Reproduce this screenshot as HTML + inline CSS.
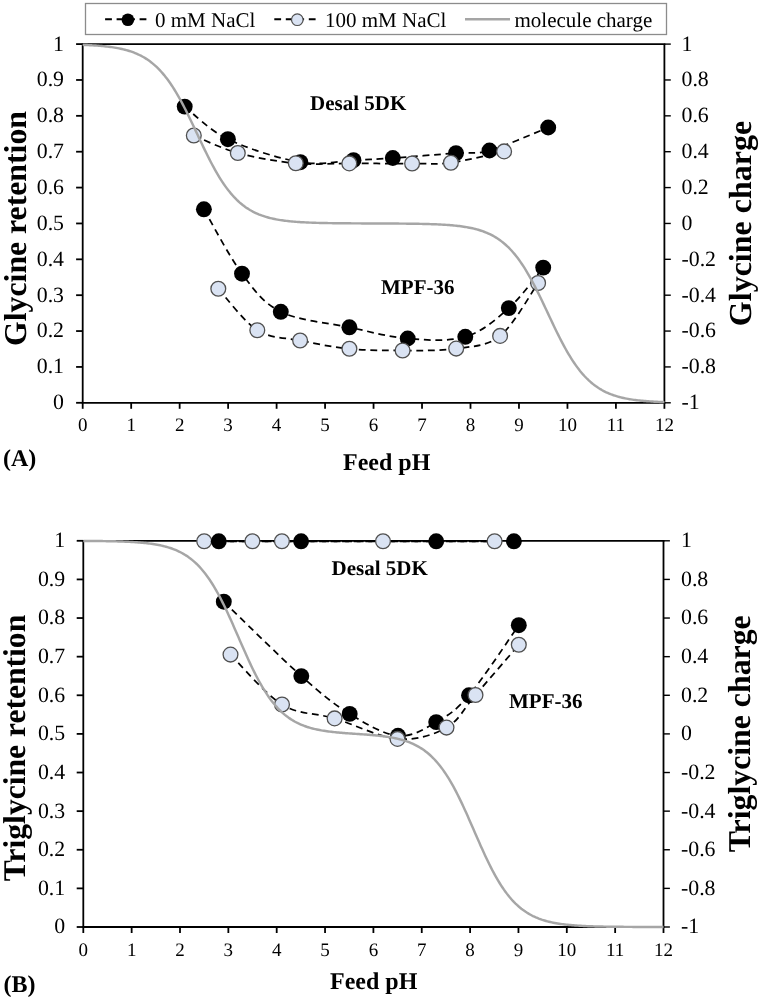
<!DOCTYPE html>
<html><head><meta charset="utf-8"><style>
html,body{margin:0;padding:0;background:#fff;width:761px;height:1000px;overflow:hidden;}
svg{display:block;will-change:transform;}
text{fill:#000;font-family:"Liberation Serif",serif;text-rendering:geometricPrecision;}
</style></head><body>
<svg width="761" height="1000" viewBox="0 0 761 1000">
<rect width="761" height="1000" fill="#fff"/>
<rect x="85.5" y="3.5" width="581" height="31" fill="#fff" stroke="#8C8C8C" stroke-width="1.3"/>
<line x1="105.1" y1="19.3" x2="150.6" y2="19.3" stroke="#000" stroke-width="1.9" stroke-dasharray="6.8 4.7"/>
<circle cx="127.9" cy="19.7" r="6.3" fill="#000"/>
<text x="155" y="27" font-size="21" >0 mM NaCl</text>
<line x1="274.3" y1="19.3" x2="320" y2="19.3" stroke="#000" stroke-width="1.9" stroke-dasharray="6.8 4.7"/>
<circle cx="297.3" cy="19.7" r="5.8" fill="#DAE3F3" stroke="#505050" stroke-width="1.2"/>
<text x="325" y="27" font-size="21" >100 mM NaCl</text>
<line x1="465" y1="19.3" x2="510" y2="19.3" stroke="#A5A5A5" stroke-width="2.6"/>
<text x="514.5" y="27" font-size="21" >molecule charge</text>
<line x1="76.1" y1="402.8" x2="82.7" y2="402.8" stroke="#000" stroke-width="1.8"/>
<text x="64" y="402.2" text-anchor="end" font-size="21.8"  dominant-baseline="central">0</text>
<line x1="76.1" y1="366.93" x2="82.7" y2="366.93" stroke="#000" stroke-width="1.8"/>
<text x="64" y="366.33" text-anchor="end" font-size="21.8"  dominant-baseline="central">0.1</text>
<line x1="76.1" y1="331.06" x2="82.7" y2="331.06" stroke="#000" stroke-width="1.8"/>
<text x="64" y="330.46" text-anchor="end" font-size="21.8"  dominant-baseline="central">0.2</text>
<line x1="76.1" y1="295.19" x2="82.7" y2="295.19" stroke="#000" stroke-width="1.8"/>
<text x="64" y="294.59" text-anchor="end" font-size="21.8"  dominant-baseline="central">0.3</text>
<line x1="76.1" y1="259.32" x2="82.7" y2="259.32" stroke="#000" stroke-width="1.8"/>
<text x="64" y="258.72" text-anchor="end" font-size="21.8"  dominant-baseline="central">0.4</text>
<line x1="76.1" y1="223.45" x2="82.7" y2="223.45" stroke="#000" stroke-width="1.8"/>
<text x="64" y="222.85" text-anchor="end" font-size="21.8"  dominant-baseline="central">0.5</text>
<line x1="76.1" y1="187.58" x2="82.7" y2="187.58" stroke="#000" stroke-width="1.8"/>
<text x="64" y="186.98" text-anchor="end" font-size="21.8"  dominant-baseline="central">0.6</text>
<line x1="76.1" y1="151.71" x2="82.7" y2="151.71" stroke="#000" stroke-width="1.8"/>
<text x="64" y="151.11" text-anchor="end" font-size="21.8"  dominant-baseline="central">0.7</text>
<line x1="76.1" y1="115.84" x2="82.7" y2="115.84" stroke="#000" stroke-width="1.8"/>
<text x="64" y="115.24" text-anchor="end" font-size="21.8"  dominant-baseline="central">0.8</text>
<line x1="76.1" y1="79.97" x2="82.7" y2="79.97" stroke="#000" stroke-width="1.8"/>
<text x="64" y="79.37" text-anchor="end" font-size="21.8"  dominant-baseline="central">0.9</text>
<line x1="76.1" y1="44.1" x2="82.7" y2="44.1" stroke="#000" stroke-width="1.8"/>
<text x="64" y="43.5" text-anchor="end" font-size="21.8"  dominant-baseline="central">1</text>
<line x1="664.4" y1="402.8" x2="670.8" y2="402.8" stroke="#000" stroke-width="1.4"/>
<text x="681.5" y="402.2" font-size="21.8"  dominant-baseline="central">-1</text>
<line x1="664.4" y1="366.93" x2="670.8" y2="366.93" stroke="#000" stroke-width="1.4"/>
<text x="681.5" y="366.33" font-size="21.8"  dominant-baseline="central">-0.8</text>
<line x1="664.4" y1="331.06" x2="670.8" y2="331.06" stroke="#000" stroke-width="1.4"/>
<text x="681.5" y="330.46" font-size="21.8"  dominant-baseline="central">-0.6</text>
<line x1="664.4" y1="295.19" x2="670.8" y2="295.19" stroke="#000" stroke-width="1.4"/>
<text x="681.5" y="294.59" font-size="21.8"  dominant-baseline="central">-0.4</text>
<line x1="664.4" y1="259.32" x2="670.8" y2="259.32" stroke="#000" stroke-width="1.4"/>
<text x="681.5" y="258.72" font-size="21.8"  dominant-baseline="central">-0.2</text>
<line x1="664.4" y1="223.45" x2="670.8" y2="223.45" stroke="#000" stroke-width="1.4"/>
<text x="681.5" y="222.85" font-size="21.8"  dominant-baseline="central">0</text>
<line x1="664.4" y1="187.58" x2="670.8" y2="187.58" stroke="#000" stroke-width="1.4"/>
<text x="681.5" y="186.98" font-size="21.8"  dominant-baseline="central">0.2</text>
<line x1="664.4" y1="151.71" x2="670.8" y2="151.71" stroke="#000" stroke-width="1.4"/>
<text x="681.5" y="151.11" font-size="21.8"  dominant-baseline="central">0.4</text>
<line x1="664.4" y1="115.84" x2="670.8" y2="115.84" stroke="#000" stroke-width="1.4"/>
<text x="681.5" y="115.24" font-size="21.8"  dominant-baseline="central">0.6</text>
<line x1="664.4" y1="79.97" x2="670.8" y2="79.97" stroke="#000" stroke-width="1.4"/>
<text x="681.5" y="79.37" font-size="21.8"  dominant-baseline="central">0.8</text>
<line x1="664.4" y1="44.1" x2="670.8" y2="44.1" stroke="#000" stroke-width="1.4"/>
<text x="681.5" y="43.5" font-size="21.8"  dominant-baseline="central">1</text>
<line x1="82.7" y1="402.8" x2="82.7" y2="408.8" stroke="#000" stroke-width="1.8"/>
<text x="82.7" y="431.3" text-anchor="middle" font-size="19" >0</text>
<line x1="131.18" y1="402.8" x2="131.18" y2="408.8" stroke="#000" stroke-width="1.8"/>
<text x="131.18" y="431.3" text-anchor="middle" font-size="19" >1</text>
<line x1="179.65" y1="402.8" x2="179.65" y2="408.8" stroke="#000" stroke-width="1.8"/>
<text x="179.65" y="431.3" text-anchor="middle" font-size="19" >2</text>
<line x1="228.12" y1="402.8" x2="228.12" y2="408.8" stroke="#000" stroke-width="1.8"/>
<text x="228.12" y="431.3" text-anchor="middle" font-size="19" >3</text>
<line x1="276.6" y1="402.8" x2="276.6" y2="408.8" stroke="#000" stroke-width="1.8"/>
<text x="276.6" y="431.3" text-anchor="middle" font-size="19" >4</text>
<line x1="325.07" y1="402.8" x2="325.07" y2="408.8" stroke="#000" stroke-width="1.8"/>
<text x="325.07" y="431.3" text-anchor="middle" font-size="19" >5</text>
<line x1="373.55" y1="402.8" x2="373.55" y2="408.8" stroke="#000" stroke-width="1.8"/>
<text x="373.55" y="431.3" text-anchor="middle" font-size="19" >6</text>
<line x1="422.02" y1="402.8" x2="422.02" y2="408.8" stroke="#000" stroke-width="1.8"/>
<text x="422.02" y="431.3" text-anchor="middle" font-size="19" >7</text>
<line x1="470.5" y1="402.8" x2="470.5" y2="408.8" stroke="#000" stroke-width="1.8"/>
<text x="470.5" y="431.3" text-anchor="middle" font-size="19" >8</text>
<line x1="518.97" y1="402.8" x2="518.97" y2="408.8" stroke="#000" stroke-width="1.8"/>
<text x="518.97" y="431.3" text-anchor="middle" font-size="19" >9</text>
<line x1="567.45" y1="402.8" x2="567.45" y2="408.8" stroke="#000" stroke-width="1.8"/>
<text x="567.45" y="431.3" text-anchor="middle" font-size="19" >10</text>
<line x1="615.92" y1="402.8" x2="615.92" y2="408.8" stroke="#000" stroke-width="1.8"/>
<text x="615.92" y="431.3" text-anchor="middle" font-size="19" >11</text>
<line x1="664.4" y1="402.8" x2="664.4" y2="408.8" stroke="#000" stroke-width="1.8"/>
<text x="664.4" y="431.3" text-anchor="middle" font-size="19" >12</text>
<line x1="82.7" y1="44.1" x2="82.7" y2="402.8" stroke="#000" stroke-width="1.8"/>
<line x1="664.4" y1="44.1" x2="664.4" y2="402.8" stroke="#000" stroke-width="1.8"/>
<line x1="81.8" y1="402.8" x2="665.3" y2="402.8" stroke="#000" stroke-width="1.8"/>
<line x1="81.8" y1="44.1" x2="665.3" y2="44.1" stroke="#000" stroke-width="1.8"/>
<path d="M184.7,106.6 C191.9,112.03 208.62,129.93 227.9,139.2 C247.18,148.47 279.47,158.7 300.4,162.2 C321.33,165.7 338.1,160.9 353.5,160.2 C368.9,159.5 375.72,159.18 392.8,158 C409.88,156.82 439.88,154.35 456,153.1 C472.12,151.85 474.13,154.77 489.5,150.5 C504.87,146.23 538.42,131.33 548.2,127.5" fill="none" stroke="#000" stroke-width="1.75" stroke-dasharray="6.8 4.7"/>
<path d="M193.8,135.5 C201.13,138.42 220.8,148.37 237.8,153 C254.8,157.63 277.22,161.57 295.8,163.3 C314.38,165.03 329.92,163.37 349.3,163.4 C368.68,163.43 395.17,163.62 412.1,163.5 C429.03,163.38 435.57,164.72 450.9,162.7 C466.23,160.68 495.23,153.28 504.1,151.4" fill="none" stroke="#000" stroke-width="1.75" stroke-dasharray="6.8 4.7"/>
<path d="M203.9,209.3 C210.25,220.03 229.18,256.62 242,273.7 C254.82,290.78 262.9,302.87 280.8,311.8 C298.7,320.73 328.25,322.85 349.4,327.3 C370.55,331.75 388.38,336.92 407.7,338.5 C427.02,340.08 448.45,341.87 465.3,336.8 C482.15,331.73 495.82,319.63 508.8,308.1 C521.78,296.57 537.47,274.35 543.2,267.6" fill="none" stroke="#000" stroke-width="1.75" stroke-dasharray="6.8 4.7"/>
<path d="M218.3,288.8 C224.8,295.7 243.67,321.58 257.3,330.2 C270.93,338.82 284.75,337.4 300.1,340.5 C315.45,343.6 332.32,347.13 349.4,348.8 C366.48,350.47 384.8,350.53 402.6,350.5 C420.4,350.47 439.95,351.03 456.2,348.6 C472.45,346.17 486.45,346.83 500.1,335.9 C513.75,324.97 531.77,291.82 538.1,283" fill="none" stroke="#000" stroke-width="1.75" stroke-dasharray="6.8 4.7"/>
<circle cx="184.7" cy="106.6" r="7.95" fill="#000"/>
<circle cx="227.9" cy="139.2" r="7.95" fill="#000"/>
<circle cx="300.4" cy="162.2" r="7.95" fill="#000"/>
<circle cx="353.5" cy="160.2" r="7.95" fill="#000"/>
<circle cx="392.8" cy="158" r="7.95" fill="#000"/>
<circle cx="456" cy="153.1" r="7.95" fill="#000"/>
<circle cx="489.5" cy="150.5" r="7.95" fill="#000"/>
<circle cx="548.2" cy="127.5" r="7.95" fill="#000"/>
<circle cx="193.8" cy="135.5" r="7.4" fill="#DAE3F3" stroke="#505050" stroke-width="1.3"/>
<circle cx="237.8" cy="153" r="7.4" fill="#DAE3F3" stroke="#505050" stroke-width="1.3"/>
<circle cx="295.8" cy="163.3" r="7.4" fill="#DAE3F3" stroke="#505050" stroke-width="1.3"/>
<circle cx="349.3" cy="163.4" r="7.4" fill="#DAE3F3" stroke="#505050" stroke-width="1.3"/>
<circle cx="412.1" cy="163.5" r="7.4" fill="#DAE3F3" stroke="#505050" stroke-width="1.3"/>
<circle cx="450.9" cy="162.7" r="7.4" fill="#DAE3F3" stroke="#505050" stroke-width="1.3"/>
<circle cx="504.1" cy="151.4" r="7.4" fill="#DAE3F3" stroke="#505050" stroke-width="1.3"/>
<circle cx="203.9" cy="209.3" r="7.95" fill="#000"/>
<circle cx="242" cy="273.7" r="7.95" fill="#000"/>
<circle cx="280.8" cy="311.8" r="7.95" fill="#000"/>
<circle cx="349.4" cy="327.3" r="7.95" fill="#000"/>
<circle cx="407.7" cy="338.5" r="7.95" fill="#000"/>
<circle cx="465.3" cy="336.8" r="7.95" fill="#000"/>
<circle cx="508.8" cy="308.1" r="7.95" fill="#000"/>
<circle cx="543.2" cy="267.6" r="7.95" fill="#000"/>
<circle cx="218.3" cy="288.8" r="7.4" fill="#DAE3F3" stroke="#505050" stroke-width="1.3"/>
<circle cx="257.3" cy="330.2" r="7.4" fill="#DAE3F3" stroke="#505050" stroke-width="1.3"/>
<circle cx="300.1" cy="340.5" r="7.4" fill="#DAE3F3" stroke="#505050" stroke-width="1.3"/>
<circle cx="349.4" cy="348.8" r="7.4" fill="#DAE3F3" stroke="#505050" stroke-width="1.3"/>
<circle cx="402.6" cy="350.5" r="7.4" fill="#DAE3F3" stroke="#505050" stroke-width="1.3"/>
<circle cx="456.2" cy="348.6" r="7.4" fill="#DAE3F3" stroke="#505050" stroke-width="1.3"/>
<circle cx="500.1" cy="335.9" r="7.4" fill="#DAE3F3" stroke="#505050" stroke-width="1.3"/>
<circle cx="538.1" cy="283" r="7.4" fill="#DAE3F3" stroke="#505050" stroke-width="1.3"/>
<path d="M82.70,44.88 L84.15,44.93 L85.61,44.99 L87.06,45.06 L88.52,45.13 L89.97,45.20 L91.43,45.28 L92.88,45.36 L94.33,45.45 L95.79,45.55 L97.24,45.65 L98.70,45.76 L100.15,45.88 L101.61,46.00 L103.06,46.14 L104.51,46.28 L105.97,46.43 L107.42,46.60 L108.88,46.77 L110.33,46.96 L111.78,47.16 L113.24,47.38 L114.69,47.61 L116.15,47.85 L117.60,48.12 L119.06,48.40 L120.51,48.70 L121.96,49.02 L123.42,49.36 L124.87,49.72 L126.33,50.11 L127.78,50.52 L129.24,50.97 L130.69,51.44 L132.14,51.94 L133.60,52.47 L135.05,53.04 L136.51,53.65 L137.96,54.29 L139.42,54.98 L140.87,55.71 L142.32,56.48 L143.78,57.30 L145.23,58.17 L146.69,59.09 L148.14,60.07 L149.60,61.10 L151.05,62.19 L152.50,63.35 L153.96,64.57 L155.41,65.85 L156.87,67.21 L158.32,68.64 L159.78,70.14 L161.23,71.71 L162.68,73.36 L164.14,75.10 L165.59,76.91 L167.05,78.80 L168.50,80.77 L169.95,82.83 L171.41,84.97 L172.86,87.19 L174.32,89.49 L175.77,91.87 L177.23,94.33 L178.68,96.87 L180.13,99.48 L181.59,102.16 L183.04,104.90 L184.50,107.71 L185.95,110.57 L187.41,113.48 L188.86,116.44 L190.31,119.44 L191.77,122.48 L193.22,125.54 L194.68,128.62 L196.13,131.71 L197.59,134.81 L199.04,137.90 L200.49,140.99 L201.95,144.05 L203.40,147.10 L204.86,150.11 L206.31,153.08 L207.77,156.01 L209.22,158.90 L210.67,161.72 L212.13,164.49 L213.58,167.19 L215.04,169.82 L216.49,172.38 L217.95,174.87 L219.40,177.27 L220.85,179.60 L222.31,181.85 L223.76,184.02 L225.22,186.10 L226.67,188.10 L228.12,190.02 L229.58,191.86 L231.03,193.62 L232.49,195.30 L233.94,196.90 L235.40,198.42 L236.85,199.87 L238.30,201.25 L239.76,202.56 L241.21,203.80 L242.67,204.98 L244.12,206.09 L245.58,207.15 L247.03,208.14 L248.48,209.08 L249.94,209.97 L251.39,210.80 L252.85,211.59 L254.30,212.33 L255.76,213.03 L257.21,213.69 L258.66,214.31 L260.12,214.89 L261.57,215.44 L263.03,215.95 L264.48,216.43 L265.94,216.88 L267.39,217.30 L268.84,217.70 L270.30,218.07 L271.75,218.42 L273.21,218.75 L274.66,219.06 L276.12,219.34 L277.57,219.61 L279.02,219.86 L280.48,220.10 L281.93,220.32 L283.39,220.52 L284.84,220.72 L286.30,220.90 L287.75,221.06 L289.20,221.22 L290.66,221.37 L292.11,221.51 L293.57,221.63 L295.02,221.75 L296.47,221.87 L297.93,221.97 L299.38,222.07 L300.84,222.16 L302.29,222.25 L303.75,222.33 L305.20,222.40 L306.65,222.47 L308.11,222.54 L309.56,222.60 L311.02,222.65 L312.47,222.71 L313.93,222.76 L315.38,222.80 L316.83,222.85 L318.29,222.89 L319.74,222.93 L321.20,222.96 L322.65,222.99 L324.11,223.03 L325.56,223.05 L327.01,223.08 L328.47,223.11 L329.92,223.13 L331.38,223.15 L332.83,223.17 L334.29,223.19 L335.74,223.21 L337.19,223.23 L338.65,223.24 L340.10,223.26 L341.56,223.27 L343.01,223.29 L344.46,223.30 L345.92,223.31 L347.37,223.32 L348.83,223.33 L350.28,223.34 L351.74,223.35 L353.19,223.36 L354.64,223.37 L356.10,223.38 L357.55,223.38 L359.01,223.39 L360.46,223.40 L361.92,223.40 L363.37,223.41 L364.82,223.42 L366.28,223.42 L367.73,223.43 L369.19,223.44 L370.64,223.44 L372.10,223.45 L373.55,223.45 L375.00,223.46 L376.46,223.47 L377.91,223.47 L379.37,223.48 L380.82,223.49 L382.28,223.49 L383.73,223.50 L385.18,223.51 L386.64,223.51 L388.09,223.52 L389.55,223.53 L391.00,223.54 L392.46,223.55 L393.91,223.55 L395.36,223.56 L396.82,223.57 L398.27,223.58 L399.73,223.60 L401.18,223.61 L402.63,223.62 L404.09,223.63 L405.54,223.65 L407.00,223.66 L408.45,223.68 L409.91,223.70 L411.36,223.72 L412.81,223.74 L414.27,223.76 L415.72,223.78 L417.18,223.81 L418.63,223.83 L420.09,223.86 L421.54,223.89 L422.99,223.92 L424.45,223.96 L425.90,223.99 L427.36,224.03 L428.81,224.07 L430.27,224.12 L431.72,224.17 L433.17,224.22 L434.63,224.27 L436.08,224.33 L437.54,224.40 L438.99,224.46 L440.45,224.53 L441.90,224.61 L443.35,224.69 L444.81,224.78 L446.26,224.88 L447.72,224.98 L449.17,225.09 L450.63,225.20 L452.08,225.33 L453.53,225.46 L454.99,225.60 L456.44,225.76 L457.90,225.92 L459.35,226.09 L460.80,226.28 L462.26,226.48 L463.71,226.69 L465.17,226.92 L466.62,227.16 L468.08,227.42 L469.53,227.70 L470.98,227.99 L472.44,228.31 L473.89,228.65 L475.35,229.01 L476.80,229.39 L478.26,229.80 L479.71,230.24 L481.16,230.71 L482.62,231.20 L484.07,231.73 L485.53,232.30 L486.98,232.89 L488.44,233.53 L489.89,234.21 L491.34,234.93 L492.80,235.70 L494.25,236.51 L495.71,237.37 L497.16,238.28 L498.62,239.25 L500.07,240.27 L501.52,241.36 L502.98,242.50 L504.43,243.71 L505.89,244.99 L507.34,246.33 L508.80,247.74 L510.25,249.23 L511.70,250.79 L513.16,252.43 L514.61,254.15 L516.07,255.95 L517.52,257.83 L518.97,259.79 L520.43,261.83 L521.88,263.96 L523.34,266.16 L524.79,268.45 L526.25,270.82 L527.70,273.27 L529.15,275.79 L530.61,278.39 L532.06,281.05 L533.52,283.79 L534.97,286.58 L536.43,289.44 L537.88,292.34 L539.33,295.30 L540.79,298.29 L542.24,301.32 L543.70,304.38 L545.15,307.45 L546.61,310.54 L548.06,313.64 L549.51,316.74 L550.97,319.82 L552.42,322.89 L553.88,325.94 L555.33,328.96 L556.79,331.94 L558.24,334.88 L559.69,337.77 L561.15,340.60 L562.60,343.38 L564.06,346.09 L565.51,348.74 L566.97,351.31 L568.42,353.81 L569.87,356.23 L571.33,358.57 L572.78,360.83 L574.24,363.01 L575.69,365.11 L577.14,367.12 L578.60,369.06 L580.05,370.91 L581.51,372.68 L582.96,374.37 L584.42,375.99 L585.87,377.52 L587.32,378.99 L588.78,380.38 L590.23,381.70 L591.69,382.95 L593.14,384.14 L594.60,385.26 L596.05,386.32 L597.50,387.33 L598.96,388.28 L600.41,389.17 L601.87,390.02 L603.32,390.81 L604.78,391.56 L606.23,392.27 L607.68,392.93 L609.14,393.56 L610.59,394.15 L612.05,394.70 L613.50,395.22 L614.96,395.70 L616.41,396.16 L617.86,396.59 L619.32,396.99 L620.77,397.36 L622.23,397.72 L623.68,398.05 L625.14,398.36 L626.59,398.65 L628.04,398.92 L629.50,399.17 L630.95,399.41 L632.41,399.63 L633.86,399.84 L635.31,400.03 L636.77,400.22 L638.22,400.39 L639.68,400.54 L641.13,400.69 L642.59,400.83 L644.04,400.96 L645.49,401.08 L646.95,401.20 L648.40,401.30 L649.86,401.40 L651.31,401.50 L652.77,401.58 L654.22,401.66 L655.67,401.74 L657.13,401.81 L658.58,401.87 L660.04,401.94 L661.49,401.99 L662.95,402.05 L664.40,402.10" fill="none" stroke="#A6A6A6" stroke-width="2.45"/>
<text x="310" y="110.4" font-size="21" font-weight="bold" >Desal 5DK</text>
<text x="381" y="293.9" font-size="21" font-weight="bold" >MPF-36</text>
<text transform="translate(25.8,228.5) rotate(-90)" text-anchor="middle" font-size="31.75" font-weight="bold" >Glycine retention</text>
<text transform="translate(751.3,223.5) rotate(-90)" text-anchor="middle" font-size="32" font-weight="bold" >Glycine charge</text>
<text x="343" y="470.2" font-size="24" font-weight="bold" >Feed pH</text>
<text x="3" y="465.8" font-size="24" font-weight="bold" >(A)</text>
<line x1="76.7" y1="927" x2="83.3" y2="927" stroke="#000" stroke-width="1.8"/>
<text x="65.2" y="926.4" text-anchor="end" font-size="21.8"  dominant-baseline="central">0</text>
<line x1="76.7" y1="888.38" x2="83.3" y2="888.38" stroke="#000" stroke-width="1.8"/>
<text x="65.2" y="887.78" text-anchor="end" font-size="21.8"  dominant-baseline="central">0.1</text>
<line x1="76.7" y1="849.76" x2="83.3" y2="849.76" stroke="#000" stroke-width="1.8"/>
<text x="65.2" y="849.16" text-anchor="end" font-size="21.8"  dominant-baseline="central">0.2</text>
<line x1="76.7" y1="811.14" x2="83.3" y2="811.14" stroke="#000" stroke-width="1.8"/>
<text x="65.2" y="810.54" text-anchor="end" font-size="21.8"  dominant-baseline="central">0.3</text>
<line x1="76.7" y1="772.52" x2="83.3" y2="772.52" stroke="#000" stroke-width="1.8"/>
<text x="65.2" y="771.92" text-anchor="end" font-size="21.8"  dominant-baseline="central">0.4</text>
<line x1="76.7" y1="733.9" x2="83.3" y2="733.9" stroke="#000" stroke-width="1.8"/>
<text x="65.2" y="733.3" text-anchor="end" font-size="21.8"  dominant-baseline="central">0.5</text>
<line x1="76.7" y1="695.28" x2="83.3" y2="695.28" stroke="#000" stroke-width="1.8"/>
<text x="65.2" y="694.68" text-anchor="end" font-size="21.8"  dominant-baseline="central">0.6</text>
<line x1="76.7" y1="656.66" x2="83.3" y2="656.66" stroke="#000" stroke-width="1.8"/>
<text x="65.2" y="656.06" text-anchor="end" font-size="21.8"  dominant-baseline="central">0.7</text>
<line x1="76.7" y1="618.04" x2="83.3" y2="618.04" stroke="#000" stroke-width="1.8"/>
<text x="65.2" y="617.44" text-anchor="end" font-size="21.8"  dominant-baseline="central">0.8</text>
<line x1="76.7" y1="579.42" x2="83.3" y2="579.42" stroke="#000" stroke-width="1.8"/>
<text x="65.2" y="578.82" text-anchor="end" font-size="21.8"  dominant-baseline="central">0.9</text>
<line x1="76.7" y1="540.8" x2="83.3" y2="540.8" stroke="#000" stroke-width="1.8"/>
<text x="65.2" y="540.2" text-anchor="end" font-size="21.8"  dominant-baseline="central">1</text>
<line x1="663.5" y1="927" x2="669.9" y2="927" stroke="#000" stroke-width="1.4"/>
<text x="681" y="926.4" font-size="21.8"  dominant-baseline="central">-1</text>
<line x1="663.5" y1="888.38" x2="669.9" y2="888.38" stroke="#000" stroke-width="1.4"/>
<text x="681" y="887.78" font-size="21.8"  dominant-baseline="central">-0.8</text>
<line x1="663.5" y1="849.76" x2="669.9" y2="849.76" stroke="#000" stroke-width="1.4"/>
<text x="681" y="849.16" font-size="21.8"  dominant-baseline="central">-0.6</text>
<line x1="663.5" y1="811.14" x2="669.9" y2="811.14" stroke="#000" stroke-width="1.4"/>
<text x="681" y="810.54" font-size="21.8"  dominant-baseline="central">-0.4</text>
<line x1="663.5" y1="772.52" x2="669.9" y2="772.52" stroke="#000" stroke-width="1.4"/>
<text x="681" y="771.92" font-size="21.8"  dominant-baseline="central">-0.2</text>
<line x1="663.5" y1="733.9" x2="669.9" y2="733.9" stroke="#000" stroke-width="1.4"/>
<text x="681" y="733.3" font-size="21.8"  dominant-baseline="central">0</text>
<line x1="663.5" y1="695.28" x2="669.9" y2="695.28" stroke="#000" stroke-width="1.4"/>
<text x="681" y="694.68" font-size="21.8"  dominant-baseline="central">0.2</text>
<line x1="663.5" y1="656.66" x2="669.9" y2="656.66" stroke="#000" stroke-width="1.4"/>
<text x="681" y="656.06" font-size="21.8"  dominant-baseline="central">0.4</text>
<line x1="663.5" y1="618.04" x2="669.9" y2="618.04" stroke="#000" stroke-width="1.4"/>
<text x="681" y="617.44" font-size="21.8"  dominant-baseline="central">0.6</text>
<line x1="663.5" y1="579.42" x2="669.9" y2="579.42" stroke="#000" stroke-width="1.4"/>
<text x="681" y="578.82" font-size="21.8"  dominant-baseline="central">0.8</text>
<line x1="663.5" y1="540.8" x2="669.9" y2="540.8" stroke="#000" stroke-width="1.4"/>
<text x="681" y="540.2" font-size="21.8"  dominant-baseline="central">1</text>
<line x1="83.3" y1="927" x2="83.3" y2="933" stroke="#000" stroke-width="1.8"/>
<text x="83.3" y="955.8" text-anchor="middle" font-size="19" >0</text>
<line x1="131.65" y1="927" x2="131.65" y2="933" stroke="#000" stroke-width="1.8"/>
<text x="131.65" y="955.8" text-anchor="middle" font-size="19" >1</text>
<line x1="180" y1="927" x2="180" y2="933" stroke="#000" stroke-width="1.8"/>
<text x="180" y="955.8" text-anchor="middle" font-size="19" >2</text>
<line x1="228.35" y1="927" x2="228.35" y2="933" stroke="#000" stroke-width="1.8"/>
<text x="228.35" y="955.8" text-anchor="middle" font-size="19" >3</text>
<line x1="276.7" y1="927" x2="276.7" y2="933" stroke="#000" stroke-width="1.8"/>
<text x="276.7" y="955.8" text-anchor="middle" font-size="19" >4</text>
<line x1="325.05" y1="927" x2="325.05" y2="933" stroke="#000" stroke-width="1.8"/>
<text x="325.05" y="955.8" text-anchor="middle" font-size="19" >5</text>
<line x1="373.4" y1="927" x2="373.4" y2="933" stroke="#000" stroke-width="1.8"/>
<text x="373.4" y="955.8" text-anchor="middle" font-size="19" >6</text>
<line x1="421.75" y1="927" x2="421.75" y2="933" stroke="#000" stroke-width="1.8"/>
<text x="421.75" y="955.8" text-anchor="middle" font-size="19" >7</text>
<line x1="470.1" y1="927" x2="470.1" y2="933" stroke="#000" stroke-width="1.8"/>
<text x="470.1" y="955.8" text-anchor="middle" font-size="19" >8</text>
<line x1="518.45" y1="927" x2="518.45" y2="933" stroke="#000" stroke-width="1.8"/>
<text x="518.45" y="955.8" text-anchor="middle" font-size="19" >9</text>
<line x1="566.8" y1="927" x2="566.8" y2="933" stroke="#000" stroke-width="1.8"/>
<text x="566.8" y="955.8" text-anchor="middle" font-size="19" >10</text>
<line x1="615.15" y1="927" x2="615.15" y2="933" stroke="#000" stroke-width="1.8"/>
<text x="615.15" y="955.8" text-anchor="middle" font-size="19" >11</text>
<line x1="663.5" y1="927" x2="663.5" y2="933" stroke="#000" stroke-width="1.8"/>
<text x="663.5" y="955.8" text-anchor="middle" font-size="19" >12</text>
<line x1="83.3" y1="540.8" x2="83.3" y2="927" stroke="#000" stroke-width="1.8"/>
<line x1="663.5" y1="540.8" x2="663.5" y2="927" stroke="#000" stroke-width="1.8"/>
<line x1="82.4" y1="927" x2="664.4" y2="927" stroke="#000" stroke-width="1.8"/>
<line x1="82.4" y1="540.8" x2="664.4" y2="540.8" stroke="#000" stroke-width="1.8"/>
<path d="M204.2,541.3 C212.23,541.3 239.45,541.3 252.4,541.3 C265.35,541.3 260.13,541.3 281.9,541.3 C303.67,541.3 347.55,541.3 383,541.3 C418.45,541.3 476,541.3 494.6,541.3" fill="none" stroke="#000" stroke-width="1.75" stroke-dasharray="6.8 4.7"/>
<path d="M218.8,541.3 C232.52,541.3 264.87,541.3 301.1,541.3 C337.33,541.3 400.73,541.3 436.2,541.3 C471.67,541.3 500.95,541.3 513.9,541.3" fill="none" stroke="#000" stroke-width="1.75" stroke-dasharray="6.8 4.7"/>
<path d="M223.8,601.7 C236.72,614.1 280.32,657.4 301.3,676.1 C322.28,694.8 333.58,703.95 349.7,713.9 C365.82,723.85 383.58,734.43 398,735.8 C412.42,737.17 424.37,728.85 436.2,722.1 C448.03,715.35 455.23,711.45 469,695.3 C482.77,679.15 510.5,636.88 518.8,625.2" fill="none" stroke="#000" stroke-width="1.75" stroke-dasharray="6.8 4.7"/>
<path d="M230.5,654.6 C239.08,662.92 264.65,693.87 282,704.5 C299.35,715.13 315.35,712.67 334.6,718.4 C353.85,724.13 378.85,737.37 397.5,738.9 C416.15,740.43 433.5,734.92 446.5,727.6 C459.5,720.28 463.45,708.8 475.5,695 C487.55,681.2 511.58,653.17 518.8,644.8" fill="none" stroke="#000" stroke-width="1.75" stroke-dasharray="6.8 4.7"/>
<circle cx="204.2" cy="541.3" r="7.4" fill="#DAE3F3" stroke="#505050" stroke-width="1.3"/>
<circle cx="252.4" cy="541.3" r="7.4" fill="#DAE3F3" stroke="#505050" stroke-width="1.3"/>
<circle cx="281.9" cy="541.3" r="7.4" fill="#DAE3F3" stroke="#505050" stroke-width="1.3"/>
<circle cx="383" cy="541.3" r="7.4" fill="#DAE3F3" stroke="#505050" stroke-width="1.3"/>
<circle cx="494.6" cy="541.3" r="7.4" fill="#DAE3F3" stroke="#505050" stroke-width="1.3"/>
<circle cx="218.8" cy="541.3" r="7.95" fill="#000"/>
<circle cx="301.1" cy="541.3" r="7.95" fill="#000"/>
<circle cx="436.2" cy="541.3" r="7.95" fill="#000"/>
<circle cx="513.9" cy="541.3" r="7.95" fill="#000"/>
<circle cx="223.8" cy="601.7" r="7.95" fill="#000"/>
<circle cx="301.3" cy="676.1" r="7.95" fill="#000"/>
<circle cx="349.7" cy="713.9" r="7.95" fill="#000"/>
<circle cx="398" cy="735.8" r="7.95" fill="#000"/>
<circle cx="436.2" cy="722.1" r="7.95" fill="#000"/>
<circle cx="469" cy="695.3" r="7.95" fill="#000"/>
<circle cx="518.8" cy="625.2" r="7.95" fill="#000"/>
<circle cx="230.5" cy="654.6" r="7.4" fill="#DAE3F3" stroke="#505050" stroke-width="1.3"/>
<circle cx="282" cy="704.5" r="7.4" fill="#DAE3F3" stroke="#505050" stroke-width="1.3"/>
<circle cx="334.6" cy="718.4" r="7.4" fill="#DAE3F3" stroke="#505050" stroke-width="1.3"/>
<circle cx="397.5" cy="738.9" r="7.4" fill="#DAE3F3" stroke="#505050" stroke-width="1.3"/>
<circle cx="446.5" cy="727.6" r="7.4" fill="#DAE3F3" stroke="#505050" stroke-width="1.3"/>
<circle cx="475.5" cy="695" r="7.4" fill="#DAE3F3" stroke="#505050" stroke-width="1.3"/>
<circle cx="518.8" cy="644.8" r="7.4" fill="#DAE3F3" stroke="#505050" stroke-width="1.3"/>
<path d="M83.30,540.92 L84.75,540.93 L86.20,540.94 L87.65,540.95 L89.10,540.96 L90.55,540.97 L92.00,540.98 L93.45,540.99 L94.90,541.01 L96.35,541.02 L97.80,541.04 L99.26,541.05 L100.71,541.07 L102.16,541.09 L103.61,541.11 L105.06,541.13 L106.51,541.16 L107.96,541.18 L109.41,541.21 L110.86,541.24 L112.31,541.27 L113.76,541.31 L115.21,541.34 L116.66,541.38 L118.11,541.42 L119.56,541.47 L121.01,541.51 L122.46,541.57 L123.91,541.62 L125.36,541.68 L126.81,541.74 L128.27,541.81 L129.72,541.88 L131.17,541.96 L132.62,542.04 L134.07,542.13 L135.52,542.22 L136.97,542.32 L138.42,542.43 L139.87,542.55 L141.32,542.67 L142.77,542.80 L144.22,542.94 L145.67,543.09 L147.12,543.26 L148.57,543.43 L150.02,543.61 L151.47,543.81 L152.92,544.02 L154.37,544.25 L155.82,544.49 L157.28,544.75 L158.73,545.03 L160.18,545.32 L161.63,545.64 L163.08,545.98 L164.53,546.34 L165.98,546.72 L167.43,547.13 L168.88,547.57 L170.33,548.03 L171.78,548.53 L173.23,549.06 L174.68,549.62 L176.13,550.22 L177.58,550.86 L179.03,551.54 L180.48,552.26 L181.93,553.03 L183.38,553.84 L184.84,554.71 L186.29,555.63 L187.74,556.60 L189.19,557.63 L190.64,558.73 L192.09,559.88 L193.54,561.10 L194.99,562.39 L196.44,563.75 L197.89,565.19 L199.34,566.70 L200.79,568.29 L202.24,569.95 L203.69,571.71 L205.14,573.54 L206.59,575.46 L208.04,577.47 L209.49,579.57 L210.94,581.75 L212.39,584.03 L213.85,586.39 L215.30,588.84 L216.75,591.37 L218.20,593.99 L219.65,596.70 L221.10,599.48 L222.55,602.34 L224.00,605.27 L225.45,608.27 L226.90,611.33 L228.35,614.45 L229.80,617.62 L231.25,620.84 L232.70,624.10 L234.15,627.38 L235.60,630.69 L237.05,634.02 L238.50,637.35 L239.95,640.69 L241.40,644.01 L242.86,647.32 L244.31,650.61 L245.76,653.86 L247.21,657.08 L248.66,660.25 L250.11,663.37 L251.56,666.44 L253.01,669.44 L254.46,672.37 L255.91,675.23 L257.36,678.01 L258.81,680.72 L260.26,683.34 L261.71,685.87 L263.16,688.32 L264.61,690.68 L266.06,692.96 L267.51,695.14 L268.96,697.24 L270.41,699.25 L271.87,701.17 L273.32,703.01 L274.77,704.76 L276.22,706.43 L277.67,708.02 L279.12,709.53 L280.57,710.97 L282.02,712.33 L283.47,713.62 L284.92,714.84 L286.37,716.00 L287.82,717.09 L289.27,718.13 L290.72,719.10 L292.17,720.02 L293.62,720.89 L295.07,721.71 L296.52,722.48 L297.97,723.21 L299.42,723.89 L300.88,724.53 L302.33,725.13 L303.78,725.70 L305.23,726.23 L306.68,726.74 L308.13,727.21 L309.58,727.65 L311.03,728.06 L312.48,728.45 L313.93,728.82 L315.38,729.16 L316.83,729.48 L318.28,729.79 L319.73,730.07 L321.18,730.34 L322.63,730.59 L324.08,730.83 L325.53,731.05 L326.98,731.26 L328.43,731.46 L329.88,731.65 L331.34,731.82 L332.79,731.99 L334.24,732.15 L335.69,732.30 L337.14,732.44 L338.59,732.58 L340.04,732.71 L341.49,732.83 L342.94,732.95 L344.39,733.06 L345.84,733.17 L347.29,733.28 L348.74,733.39 L350.19,733.49 L351.64,733.59 L353.09,733.69 L354.54,733.79 L355.99,733.88 L357.44,733.98 L358.90,734.08 L360.35,734.18 L361.80,734.28 L363.25,734.38 L364.70,734.48 L366.15,734.59 L367.60,734.70 L369.05,734.81 L370.50,734.93 L371.95,735.05 L373.40,735.18 L374.85,735.31 L376.30,735.45 L377.75,735.60 L379.20,735.76 L380.65,735.92 L382.10,736.09 L383.55,736.28 L385.00,736.47 L386.45,736.68 L387.91,736.90 L389.36,737.13 L390.81,737.37 L392.26,737.64 L393.71,737.92 L395.16,738.21 L396.61,738.53 L398.06,738.86 L399.51,739.22 L400.96,739.60 L402.41,740.01 L403.86,740.44 L405.31,740.90 L406.76,741.39 L408.21,741.92 L409.66,742.47 L411.11,743.06 L412.56,743.69 L414.01,744.36 L415.46,745.07 L416.92,745.83 L418.37,746.63 L419.82,747.48 L421.27,748.38 L422.72,749.34 L424.17,750.35 L425.62,751.43 L427.07,752.56 L428.52,753.76 L429.97,755.03 L431.42,756.37 L432.87,757.78 L434.32,759.27 L435.77,760.83 L437.22,762.47 L438.67,764.20 L440.12,766.01 L441.57,767.90 L443.02,769.88 L444.47,771.95 L445.93,774.10 L447.38,776.35 L448.83,778.68 L450.28,781.10 L451.73,783.61 L453.18,786.20 L454.63,788.88 L456.08,791.64 L457.53,794.47 L458.98,797.38 L460.43,800.36 L461.88,803.40 L463.33,806.50 L464.78,809.66 L466.23,812.86 L467.68,816.10 L469.13,819.38 L470.58,822.68 L472.03,826.00 L473.48,829.34 L474.94,832.67 L476.39,836.00 L477.84,839.32 L479.29,842.61 L480.74,845.88 L482.19,849.11 L483.64,852.30 L485.09,855.43 L486.54,858.52 L487.99,861.54 L489.44,864.49 L490.89,867.38 L492.34,870.19 L493.79,872.92 L495.24,875.56 L496.69,878.13 L498.14,880.61 L499.59,883.00 L501.04,885.30 L502.49,887.51 L503.94,889.64 L505.40,891.68 L506.85,893.63 L508.30,895.49 L509.75,897.27 L511.20,898.97 L512.65,900.58 L514.10,902.12 L515.55,903.58 L517.00,904.96 L518.45,906.28 L519.90,907.52 L521.35,908.70 L522.80,909.81 L524.25,910.86 L525.70,911.85 L527.15,912.79 L528.60,913.67 L530.05,914.50 L531.50,915.29 L532.96,916.03 L534.41,916.72 L535.86,917.37 L537.31,917.98 L538.76,918.56 L540.21,919.10 L541.66,919.61 L543.11,920.08 L544.56,920.53 L546.01,920.95 L547.46,921.34 L548.91,921.71 L550.36,922.05 L551.81,922.37 L553.26,922.68 L554.71,922.96 L556.16,923.22 L557.61,923.47 L559.06,923.70 L560.51,923.92 L561.97,924.12 L563.42,924.31 L564.87,924.49 L566.32,924.65 L567.77,924.81 L569.22,924.95 L570.67,925.09 L572.12,925.21 L573.57,925.33 L575.02,925.44 L576.47,925.55 L577.92,925.64 L579.37,925.73 L580.82,925.82 L582.27,925.90 L583.72,925.97 L585.17,926.04 L586.62,926.10 L588.07,926.16 L589.52,926.22 L590.98,926.27 L592.43,926.32 L593.88,926.36 L595.33,926.41 L596.78,926.44 L598.23,926.48 L599.68,926.52 L601.13,926.55 L602.58,926.58 L604.03,926.61 L605.48,926.63 L606.93,926.66 L608.38,926.68 L609.83,926.70 L611.28,926.72 L612.73,926.74 L614.18,926.76 L615.63,926.77 L617.08,926.79 L618.53,926.80 L619.99,926.82 L621.44,926.83 L622.89,926.84 L624.34,926.85 L625.79,926.86 L627.24,926.87 L628.69,926.88 L630.14,926.89 L631.59,926.89 L633.04,926.90 L634.49,926.91 L635.94,926.91 L637.39,926.92 L638.84,926.92 L640.29,926.93 L641.74,926.93 L643.19,926.94 L644.64,926.94 L646.09,926.95 L647.54,926.95 L649.00,926.95 L650.45,926.96 L651.90,926.96 L653.35,926.96 L654.80,926.96 L656.25,926.97 L657.70,926.97 L659.15,926.97 L660.60,926.97 L662.05,926.98 L663.50,926.98" fill="none" stroke="#A6A6A6" stroke-width="2.45"/>
<text x="331.5" y="575.2" font-size="21" font-weight="bold" >Desal 5DK</text>
<text x="509" y="708" font-size="21" font-weight="bold" >MPF-36</text>
<text transform="translate(24.8,748) rotate(-90)" text-anchor="middle" font-size="31.6" font-weight="bold" >Triglycine retention</text>
<text transform="translate(750,733.8) rotate(-90)" text-anchor="middle" font-size="31.8" font-weight="bold" >Triglycine charge</text>
<text x="330" y="988.8" font-size="24" font-weight="bold" >Feed pH</text>
<text x="3.5" y="991.9" font-size="24" font-weight="bold" >(B)</text>
</svg>
</body></html>
